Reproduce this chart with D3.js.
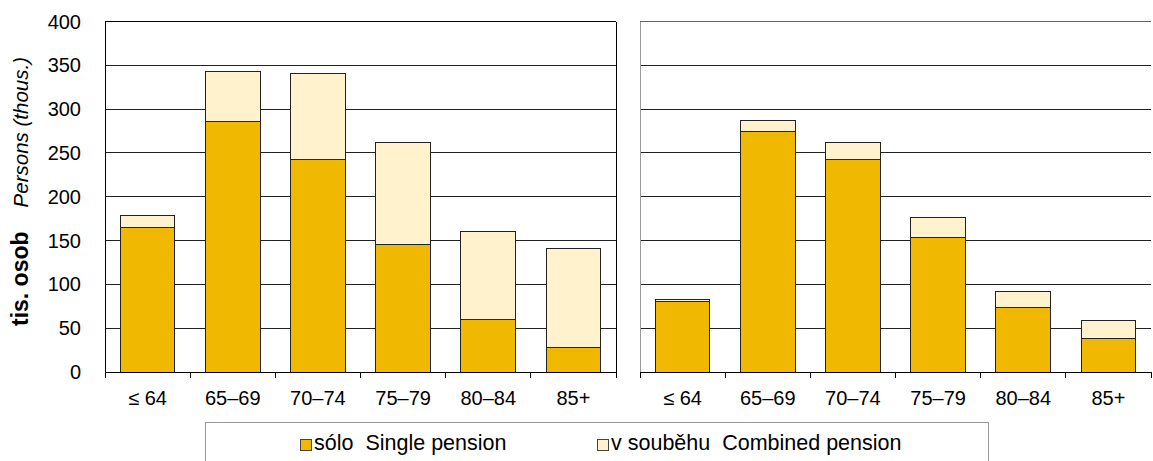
<!DOCTYPE html>
<html><head><meta charset="utf-8">
<script src="https://cdn.jsdelivr.net/npm/d3@7"></script>
<style>body{margin:0;background:#fff;}svg{display:block;font-family:"Liberation Sans",Arial,sans-serif;}</style>
</head><body>
<svg id="c" width="1153" height="461"></svg>
<script>
const categories = ["≤ 64","65–69","70–74","75–79","80–84","85+"];
const leftSolo = [165,286,243,146,60,28];
const leftCombined = [14,57,98,116,100,113];
const rightSolo = [81,275,242,154,74,38];
const rightCombined = [2,12,20,22,18,21];
const yTicks = [0,50,100,150,200,250,300,350,400];
const seriesNames = ["sólo  Single pension","v souběhu  Combined pension"];
const colors = ["#F0B800","#FFF2CC"];

const svg = d3.select("#c");
const y = d3.scaleLinear().domain([0,400]).range([372,21.5]);

function panel(x0,x1,solo,comb,showY,borderColor){
  const x = d3.scaleBand().domain(categories).range([x0,x1]).paddingInner(0.36).paddingOuter(0.18);
  const g = svg.append("g");
  g.selectAll("line.grid").data(yTicks.filter(d=>d>0)).join("line")
    .attr("x1",x0).attr("x2",x1).attr("y1",d=>y(d)).attr("y2",d=>y(d))
    .attr("stroke",d=>d===400?borderColor:"#222").attr("stroke-width",1).attr("shape-rendering","crispEdges");
  const data = categories.map((c,i)=>({c,s:solo[i],t:solo[i]+comb[i]}));
  g.selectAll("rect.s").data(data).join("rect")
    .attr("x",d=>x(d.c)).attr("width",x.bandwidth())
    .attr("y",d=>y(d.s)).attr("height",d=>y(0)-y(d.s))
    .attr("fill",colors[0]).attr("stroke","#222").attr("stroke-width",1).attr("shape-rendering","crispEdges");
  g.selectAll("rect.t").data(data).join("rect")
    .attr("x",d=>x(d.c)).attr("width",x.bandwidth())
    .attr("y",d=>y(d.t)).attr("height",d=>y(d.s)-y(d.t))
    .attr("fill",colors[1]).attr("stroke","#222").attr("stroke-width",1).attr("shape-rendering","crispEdges");
  g.append("line").attr("x1",x0).attr("x2",x0).attr("y1",y(400)).attr("y2",y(0))
    .attr("stroke",showY?"#000":"#999").attr("shape-rendering","crispEdges");
  if(showY){
    g.append("line").attr("x1",x1).attr("x2",x1).attr("y1",y(400)).attr("y2",y(0))
      .attr("stroke","#000").attr("shape-rendering","crispEdges");
  }
  const xa = g.append("g").attr("transform",`translate(0,${y(0)})`);
  xa.append("line").attr("x1",x0).attr("x2",x1).attr("stroke","#000").attr("shape-rendering","crispEdges");
  const bounds = d3.range(categories.length+1).map(i=>x0+i*(x1-x0)/categories.length);
  xa.selectAll("line.tk").data(bounds).join("line")
    .attr("x1",d=>d).attr("x2",d=>d).attr("y1",0).attr("y2",6)
    .attr("stroke","#000").attr("shape-rendering","crispEdges");
  xa.selectAll("text").data(categories).join("text")
    .attr("x",d=>x(d)+x.bandwidth()/2).attr("y",33)
    .attr("text-anchor","middle").attr("font-size",20).attr("fill","#000").text(d=>d);
  if(showY){
    g.selectAll("text.yl").data(yTicks).join("text")
      .attr("x",x0-24).attr("y",d=>y(d)+7).attr("text-anchor","end")
      .attr("font-size",20).attr("fill","#000").text(d=>d);
  }
}
panel(105,616,leftSolo,leftCombined,true,"#000");
panel(640,1151,rightSolo,rightCombined,false,"#666");

svg.append("text").attr("transform","translate(28,326) rotate(-90)")
  .attr("text-anchor","start").attr("font-size",23).attr("font-weight","bold").attr("fill","#000").text("tis. osob");
svg.append("text").attr("transform","translate(28,57) rotate(-90)")
  .attr("text-anchor","end").attr("font-size",20.5).attr("font-style","italic").attr("fill","#000").text("Persons (thous.)");

svg.append("rect").attr("x",205.5).attr("y",422.5).attr("width",783).attr("height",50)
  .attr("fill","#fff").attr("stroke","#999");
const lx = [300,597];
seriesNames.forEach((n,i)=>{
  svg.append("rect").attr("x",lx[i]+0.5).attr("y",439.5).attr("width",11).attr("height",11)
    .attr("fill",colors[i]).attr("stroke","#444");
  svg.append("text").attr("x",lx[i]+14).attr("y",450).attr("font-size",21.5).attr("fill","#000")
    .attr("xml:space","preserve").style("white-space","pre").text(n);
});
</script>
</body></html>
